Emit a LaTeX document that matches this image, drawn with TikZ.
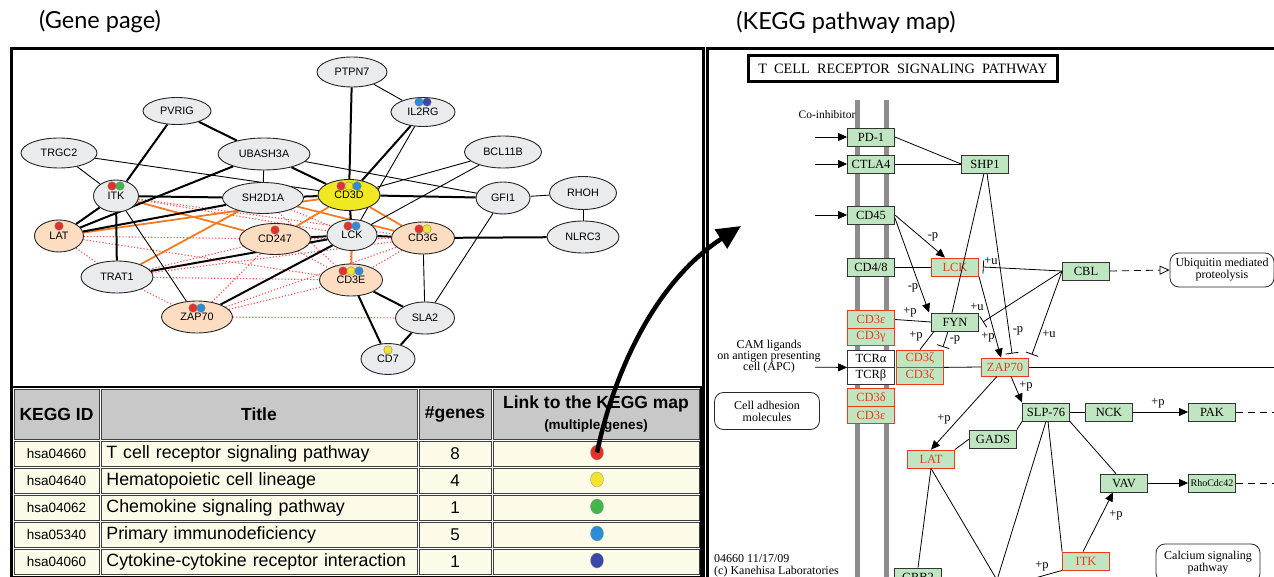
\documentclass[tikz,border=0pt]{standalone}
\usepackage{fontspec}
\setmainfont{Liberation Sans}
\newfontfamily\keggfont{Liberation Serif}
\newfontfamily\headfont{Lato}
\usetikzlibrary{shapes.geometric,arrows.meta,backgrounds}

\definecolor{genegray}{HTML}{EAEBEC}
\definecolor{genepeach}{HTML}{FCDDC2}
\definecolor{geneyellow}{HTML}{F1E824}
\definecolor{linkorange}{HTML}{F47B22}
\definecolor{linkred}{HTML}{FF4F4F}
\definecolor{mapred}{HTML}{E8302A}
\definecolor{mapyellow}{HTML}{F2E32B}
\definecolor{mapgreen}{HTML}{41B649}
\definecolor{mapblue}{HTML}{2D8DD8}
\definecolor{mapnavy}{HTML}{3A48A6}
\definecolor{headgray}{HTML}{C8C8C8}
\definecolor{rowcream}{HTML}{FBFBE8}
\definecolor{kegggreen}{HTML}{BFE6C0}
\definecolor{keggred}{HTML}{EE3A1C}
\definecolor{membrane}{HTML}{8C8C8C}

\tikzset{
  heading/.style={font=\headfont\fontsize{23.5}{26}\selectfont, inner sep=0pt},
  panel/.style={line width=3pt},
  gene/.style={shape=ellipse, draw=black!85, line width=0.9pt, fill=genegray, inner sep=0pt, font=\fontsize{10.8}{12}\selectfont},
  hit/.style={gene, fill=genepeach},
  hitdot/.style={shape=circle, draw=black!55, line width=0.3pt, inner sep=0pt, minimum size=8.5pt},
  strong/.style={line width=2pt},
  weak/.style={line width=0.9pt},
  shared/.style={draw=linkorange, line width=1.8pt},
  coexp/.style={draw=linkred, line width=1.1pt, dash pattern=on 1.2pt off 2pt},
  hcell/.style={shape=rectangle, draw=black!75, line width=0.8pt, fill=headgray, inner sep=0pt, minimum height=50pt, font=\bfseries\fontsize{17.5}{19}\selectfont},
  tcell/.style={shape=rectangle, draw=black!75, line width=0.8pt, fill=rowcream, inner sep=0pt, minimum height=25pt, font=\fontsize{17}{18}\selectfont},
  idcell/.style={tcell, minimum width=85pt, font=\fontsize{13.5}{14}\selectfont},
  titlecell/.style={tcell, anchor=west, text width=306pt, inner xsep=5pt, align=left, font=\fontsize{17.8}{18}\selectfont},
  numcell/.style={tcell, minimum width=72pt},
  linkcell/.style={tcell, minimum width=206pt},
  linkdot/.style={shape=ellipse, inner sep=0pt, minimum width=13pt, minimum height=15pt, draw=black!40, line width=0.3pt},
  kbox/.style={shape=rectangle, draw=black!80, line width=0.8pt, fill=kegggreen, inner sep=0pt, minimum width=47pt, minimum height=18pt, font=\keggfont\fontsize{12.5}{14}\selectfont},
  kred/.style={kbox, draw=keggred, text=keggred},
  ktcr/.style={kbox, fill=white},
  kmap/.style={shape=rectangle, rounded corners=9pt, draw=black!85, line width=0.8pt, align=center, font=\keggfont\fontsize{12}{12}\selectfont, inner sep=0pt},
  klabel/.style={font=\keggfont\fontsize{12.5}{14}\selectfont, inner sep=0pt},
  kline/.style={line width=0.8pt},
  kact/.style={kline, -{Triangle[length=9pt, width=8pt]}},
  kinh/.style={kline, -{Bar[width=13pt]}},
  kdash/.style={kline, dash pattern=on 7pt off 5pt},
}

\begin{document}
\begin{tikzpicture}[x=1pt, y=-1pt]
    \clip (0,0) rectangle (1274,577);

    \node [heading] (genehead) at (100,22) {(Gene page)};
    \node [heading] (kegghead) at (846,22) {(KEGG pathway map)};
    \draw [panel] (11,49) rectangle (703,600);
    \draw [panel] (707,49) rectangle (1290,600);

    % gene network
    \node [gene, minimum width=70pt, minimum height=30pt] (ptpn7) at (352,72) {PTPN7};
    \node [gene, minimum width=64pt, minimum height=29pt] (il2rg) at (423,112) {IL2RG};
    \node [gene, minimum width=68pt, minimum height=27pt] (pvrig) at (177,111) {PVRIG};
    \node [gene, minimum width=76pt, minimum height=30pt] (trgc2) at (59,153) {TRGC2};
    \node [gene, minimum width=92pt, minimum height=32pt] (ubash3a) at (264,154) {UBASH3A};
    \node [gene, minimum width=77pt, minimum height=32pt] (bcl11b) at (503,152) {BCL11B};
    \node [gene, minimum width=45pt, minimum height=32pt] (itk) at (116,196) {ITK};
    \node [gene, minimum width=81pt, minimum height=31pt] (sh2d1a) at (263,198) {SH2D1A};
    \node [gene, fill=geneyellow, minimum width=62pt, minimum height=31pt] (cd3d) at (349,195) {CD3D};
    \node [gene, minimum width=54pt, minimum height=32pt] (gfi1) at (503,198) {GFI1};
    \node [gene, minimum width=67pt, minimum height=33pt] (rhoh) at (583,193) {RHOH};
    \node [hit, minimum width=49pt, minimum height=32pt] (lat) at (59,236) {LAT};
    \node [hit, minimum width=71pt, minimum height=31pt] (cd247) at (275,239) {CD247};
    \node [gene, minimum width=50pt, minimum height=31pt] (lck) at (352,235) {LCK};
    \node [hit, minimum width=63pt, minimum height=32pt] (cd3g) at (423,238) {CD3G};
    \node [gene, minimum width=72pt, minimum height=32pt] (nlrc3) at (583,237) {NLRC3};
    \node [gene, minimum width=72pt, minimum height=32pt] (trat1) at (117,277) {TRAT1};
    \node [hit, minimum width=63pt, minimum height=32pt] (cd3e) at (351,280) {CD3E};
    \node [hit, minimum width=71pt, minimum height=32pt] (zap70) at (197,317) {ZAP70};
    \node [gene, minimum width=59pt, minimum height=32pt] (sla2) at (425,318) {SLA2};
    \node [gene, minimum width=54pt, minimum height=31pt] (cd7) at (388,359) {CD7};

    \node [hitdot, fill=mapblue] (il2rg-1) at (419,102) {};
    \node [hitdot, fill=mapnavy] (il2rg-2) at (427,102) {};
    \node [hitdot, fill=mapred] (itk-1) at (112,186) {};
    \node [hitdot, fill=mapgreen] (itk-2) at (120,186) {};
    \node [hitdot, fill=mapred] (cd3d-1) at (341,186) {};
    \node [hitdot, fill=mapyellow] (cd3d-2) at (349,186) {};
    \node [hitdot, fill=mapblue] (cd3d-3) at (357,186) {};
    \node [hitdot, fill=mapred] (lat-1) at (59,226) {};
    \node [hitdot, fill=mapred] (cd247-1) at (275,230) {};
    \node [hitdot, fill=mapred] (lck-1) at (348,226) {};
    \node [hitdot, fill=mapblue] (lck-2) at (356,226) {};
    \node [hitdot, fill=mapred] (cd3g-1) at (419,229) {};
    \node [hitdot, fill=mapyellow] (cd3g-2) at (427,229) {};
    \node [hitdot, fill=mapred] (cd3e-1) at (343,271) {};
    \node [hitdot, fill=mapyellow] (cd3e-2) at (351,271) {};
    \node [hitdot, fill=mapblue] (cd3e-3) at (359,271) {};
    \node [hitdot, fill=mapred] (zap70-1) at (193,308) {};
    \node [hitdot, fill=mapblue] (zap70-2) at (201,308) {};
    \node [hitdot, fill=mapyellow] (cd7-1) at (388,350) {};

    \begin{scope}[on background layer]
        % co-expression
        \draw [coexp] (lat) to (itk);
        \draw [coexp] (lat) to (trat1);
        \draw [coexp] (lat) to (cd247);
        \draw [coexp] (lat) to (cd3e);
        \draw [coexp] (itk) to (lck);
        \draw [coexp] (itk) to (cd3g);
        \draw [coexp] (trat1) to (cd247);
        \draw [coexp] (trat1) to (cd3e);
        \draw [coexp] (trat1) to (zap70);
        \draw [coexp] (trat1) to (cd3g);
        \draw [coexp] (zap70) to (cd247);
        \draw [coexp] (zap70) to (cd3e);
        \draw [coexp] (zap70) to (sla2);
        \draw [coexp] (zap70) to (cd3g);
        \draw [coexp] (cd247) to (cd3e);
        \draw [coexp] (cd247) to (cd3g);
        \draw [coexp] (cd3g) to (cd3e);
        \draw [coexp] (sh2d1a) to (cd3e);
        \draw [coexp] (sh2d1a) to (lck);
        \draw [coexp] (cd3d) to (cd3e);
        \draw [coexp] (lck) to (cd3e);
        % shared pathways
        \draw [shared] (itk) to (cd247);
        \draw [shared] (lat) to (cd3d);
        \draw [shared] (trat1) to (sh2d1a);
        \draw [shared] (cd247) to (cd3d);
        \draw [shared] (cd3d) to (cd3g);
        \draw [shared] (sh2d1a) to (cd3g);
        \draw [shared] (lck) to (cd3e);
        % interactions
        \draw [strong] (ptpn7) to (cd3d);
        \draw [strong] (il2rg) to (cd3d);
        \draw [strong] (pvrig) to (itk);
        \draw [strong] (pvrig) to (ubash3a);
        \draw [strong] (ubash3a) to (cd3d);
        \draw [strong] (ubash3a) to (lat);
        \draw [strong] (itk) to (sh2d1a);
        \draw [strong] (sh2d1a) to (cd3d);
        \draw [strong] (itk) to (lat);
        \draw [strong] (sh2d1a) to (lat);
        \draw [strong] (itk) to (trat1);
        \draw [strong] (cd3d) to (gfi1);
        \draw [strong] (cd3d) to (lck);
        \draw [strong] (lck) to (cd3g);
        \draw [strong] (lck) to (cd247);
        \draw [strong] (lck) to (trat1);
        \draw [strong] (lck) to (zap70);
        \draw [strong] (cd3g) to (nlrc3);
        \draw [strong] (cd3e) to (sla2);
        \draw [strong] (cd3e) to (cd7);
        \draw [strong] (sla2) to (cd7);
        \draw [weak] (ptpn7) to (il2rg);
        \draw [weak] (il2rg) to (lck);
        \draw [weak] (trgc2) to (itk);
        \draw [weak] (trgc2) to (cd3d);
        \draw [weak] (ubash3a) to (sh2d1a);
        \draw [weak] (ubash3a) to (gfi1);
        \draw [weak] (bcl11b) to (cd3d);
        \draw [weak] (bcl11b) to (lck);
        \draw [weak] (gfi1) to (rhoh);
        \draw [weak] (rhoh) to (nlrc3);
        \draw [weak] (gfi1) to (sla2);
        \draw [weak] (cd3g) to (sla2);
        \draw [weak] (itk) to (zap70);
    \end{scope}

    % pathway table
    \node [hcell, minimum width=85pt] (hid) at (56.5,414) {KEGG ID};
    \node [hcell, minimum width=316pt] (htitle) at (259,414) {Title};
    \node [hcell, minimum width=72pt] (hgenes) at (455,414) {\#genes};
    \node [hcell, minimum width=206pt, align=center] (hlink) at (596,414) {Link to the KEGG map\\[2pt]{\fontsize{13.5}{14}\selectfont (multiple genes)}};

    \node [idcell] (id1) at (56.5,453.5) {hsa04660};
    \node [titlecell] (title1) at (101,453.5) {T cell receptor signaling pathway};
    \node [numcell] (num1) at (455,453.5) {8};
    \node [linkcell] (link1) at (596,453.5) {};
    \node [idcell] (id2) at (56.5,480.5) {hsa04640};
    \node [titlecell] (title2) at (101,480.5) {Hematopoietic cell lineage};
    \node [numcell] (num2) at (455,480.5) {4};
    \node [linkcell] (link2) at (596,480.5) {};
    \node [idcell] (id3) at (56.5,507.5) {hsa04062};
    \node [titlecell] (title3) at (101,507.5) {Chemokine signaling pathway};
    \node [numcell] (num3) at (455,507.5) {1};
    \node [linkcell] (link3) at (596,507.5) {};
    \node [idcell] (id4) at (56.5,534.5) {hsa05340};
    \node [titlecell] (title4) at (101,534.5) {Primary immunodeficiency};
    \node [numcell] (num4) at (455,534.5) {5};
    \node [linkcell] (link4) at (596,534.5) {};
    \node [idcell] (id5) at (56.5,561.5) {hsa04060};
    \node [titlecell] (title5) at (101,561.5) {Cytokine-cytokine receptor interaction};
    \node [numcell] (num5) at (455,561.5) {1};
    \node [linkcell] (link5) at (596,561.5) {};
    \draw [line width=1.5pt] (12,387) rectangle (701,577);

    \node [linkdot, fill=mapred] (tdot1) at (597,452.5) {};
    \node [linkdot, fill=mapyellow] (tdot2) at (597,479.5) {};
    \node [linkdot, fill=mapgreen] (tdot3) at (597,506.5) {};
    \node [linkdot, fill=mapblue] (tdot4) at (597,533.5) {};
    \node [linkdot, fill=mapnavy] (tdot5) at (597,560.5) {};

    % KEGG map
    \node [draw, line width=2.5pt, minimum width=309pt, minimum height=26pt, inner sep=0pt, font=\keggfont\fontsize{14.3}{16}\selectfont] (ktitle) at (903,68.5) {T\ \ CELL\ \ RECEPTOR\ \ SIGNALING\ \ PATHWAY};
    \fill [membrane] (854.5,100) rectangle (859.5,577);
    \fill [membrane] (883.5,100) rectangle (888.5,577);

    \node [kbox] (pd1) at (871,137) {PD-1};
    \node [kbox] (ctla4) at (871,164) {CTLA4};
    \node [kbox] (shp1) at (985,164) {SHP1};
    \node [kbox] (cd45) at (871,215) {CD45};
    \node [kbox] (cd48) at (871,267) {CD4/8};
    \node [kred] (klck) at (955,267) {LCK};
    \node [kred, minimum height=17.5pt] (cd3e1) at (871,319.5) {CD3ε};
    \node [kred, minimum height=17.5pt] (cd3g1) at (871,337) {CD3γ};
    \node [kbox] (fyn) at (955,322) {FYN};
    \node [ktcr, minimum height=17pt] (tcra) at (871,358.5) {TCRα};
    \node [ktcr, minimum height=17pt] (tcrb) at (871,375.5) {TCRβ};
    \node [kred, minimum height=17pt] (cd3z1) at (920,358.5) {CD3ζ};
    \node [kred, minimum height=17pt] (cd3z2) at (920,375.5) {CD3ζ};
    \node [kred, minimum height=17.5pt] (cd3d1) at (871,397.5) {CD3δ};
    \node [kred, minimum height=17.5pt] (cd3e2) at (871,415) {CD3ε};
    \node [kred] (zap) at (1005,367) {ZAP70};
    \node [kbox] (cbl) at (1086,271) {CBL};
    \node [kbox] (slp) at (1046,412) {SLP-76};
    \node [kbox] (nck) at (1109,412) {NCK};
    \node [kbox] (pak) at (1212,412) {PAK};
    \node [kred] (klat) at (931,459) {LAT};
    \node [kbox] (gads) at (993,439) {GADS};
    \node [kbox] (grb2) at (918,577) {GRB2};
    \node [kbox] (vav) at (1124,483) {VAV};
    \node [kbox, font=\keggfont\fontsize{10}{12}\selectfont] (rho) at (1212,483) {RhoCdc42};
    \node [kred] (kitk) at (1086,561) {ITK};
    \node [kmap, minimum width=104pt, minimum height=34pt] (ubiq) at (1222,270) {Ubiquitin mediated\\proteolysis};
    \node [kmap, minimum width=105pt, minimum height=37pt] (cellad) at (767,411) {Cell adhesion\\molecules};
    \node [kmap, minimum width=104pt, minimum height=38pt] (calcium) at (1208,563) {Calcium signaling\\pathway};

    \node [klabel, font=\keggfont\fontsize{11.5}{12}\selectfont] (coinh) at (827,115) {Co-inhibitor};
    \node [klabel, align=center, font=\keggfont\fontsize{12}{11}\selectfont] (cam) at (769,357) {CAM ligands\\on antigen presenting\\cell (APC)};
    \node [klabel, anchor=west, align=left, font=\keggfont\fontsize{12}{12}\selectfont] (stamp) at (714,566) {04660 11/17/09\\(c) Kanehisa Laboratories};

    \coordinate (in1) at (815,137);
    \coordinate (in2) at (815,164);
    \coordinate (in3) at (815,215);
    \coordinate (in4) at (815,367.25);
    \coordinate (fynbar) at (943,347);
    \coordinate (zapout) at (1280,367);
    \coordinate (pakout) at (1280,412);
    \coordinate (rhoout) at (1280,483);
    \coordinate (plc) at (997,580);
    \coordinate (itkout) at (1028,580);

    \draw [kact] (in1) -- (pd1.west);
    \draw [kact] (in2) -- (ctla4.west);
    \draw [kact] (in3) -- (cd45.west);
    \draw [kact] (in4) -- (tcra.south west);
    \draw [kline] (pd1.east) -- (shp1.west);
    \draw [kline] (ctla4.east) -- (shp1.west);
    \draw [kline] ([xshift=-1pt]shp1.south) -- ([xshift=-3pt]fyn.north);
    \draw [kinh] ([xshift=2pt]shp1.south) -- ([xshift=7pt,yshift=4pt]zap.north);
    \draw [kact] (cd45.east) -- ([xshift=-10pt]klck.north);
    \draw [kact] ([yshift=-3pt]cd45.east) -- ([xshift=-2pt]fyn.north west);
    \draw [kline] (cd48.east) -- (klck.west);
    \draw [kinh] (cbl.west) -- ([xshift=4pt]klck.east);
    \draw [kinh] (cbl.west) -- ([xshift=4pt]fyn.east);
    \draw [kinh] (cbl.west) -- ([xshift=3pt,yshift=3pt]zap.north east);
    \draw [kact] (klck.south east) -- ([xshift=-4pt]zap.north);
    \draw [kline] (cd3e1.east) -- (fyn.west);
    \draw [kline] ([xshift=-21pt]fyn.south) -- (cd3z1.north);
    \draw [kinh] ([xshift=-7pt]fyn.south) -- (fynbar);
    \draw [kline] (cd3z1.south east) -- (zap.west);
    \draw [kline] (zap.east) -- (zapout);
    \draw [kact] ([xshift=6pt]zap.south) -- (slp.north west);
    \draw [kact] ([xshift=-8pt]zap.south) -- (klat.north);
    \draw [kline] (klat.north east) -- (gads.west);
    \draw [kline] (gads.north east) -- (slp.south west);
    \draw [kline] (slp.east) -- (nck.west);
    \draw [kact] (nck.east) -- (pak.west);
    \draw [kline] (slp.south east) -- ([xshift=-8pt]vav.north);
    \draw [kact] (vav.east) -- (rho.west);
    \draw [kdash] (pak.east) -- (pakout);
    \draw [kdash] (rho.east) -- (rhoout);
    \draw [kline] ([xshift=2pt]slp.south) -- (kitk.north west);
    \draw [kline] (slp.south) -- (plc);
    \draw [kline] (klat.south) -- (grb2.north);
    \draw [kline] (klat.south) -- (plc);
    \draw [kact] ([xshift=-3pt]kitk.north) -- ([xshift=-11pt]vav.south);
    \draw [kline] (kitk.south west) -- (itkout);
    \draw [kdash, -{Triangle[open, length=10pt, width=9pt]}] (cbl.east) -- (ubiq.west);

    \node [klabel] (p1) at (933,237) {-p};
    \node [klabel] (p2) at (913,288) {-p};
    \node [klabel] (u1) at (991,261) {+u};
    \node [klabel] (u2) at (977,307) {+u};
    \node [klabel] (p3) at (910,312) {+p};
    \node [klabel] (p4) at (916,336) {+p};
    \node [klabel] (p5) at (955,340) {-p};
    \node [klabel] (p6) at (988,337) {+p};
    \node [klabel] (p7) at (1018,331) {-p};
    \node [klabel] (u3) at (1049,334) {+u};
    \node [klabel] (p8) at (1026,386) {+p};
    \node [klabel] (p9) at (944,419) {+p};
    \node [klabel] (p10) at (1158,403) {+p};
    \node [klabel] (p11) at (1116,515) {+p};
    \node [klabel] (p12) at (1042,566) {+p};

    % link from the table to the map
    \coordinate (maptip) at (741,226);
    \draw [line width=4.5pt, -{Triangle[length=24pt, width=22pt]}] (tdot1.center) .. controls (614,372) and (655,282) .. (maptip);
\end{tikzpicture}
\end{document}
